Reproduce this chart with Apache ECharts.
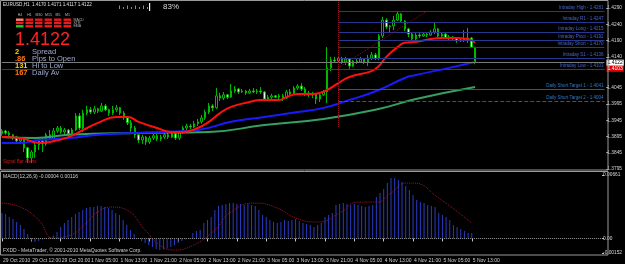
<!DOCTYPE html>
<html><head><meta charset="utf-8">
<script src="https://cdn.jsdelivr.net/npm/echarts@6/dist/echarts.min.js"></script>
<style>html,body{margin:0;padding:0;background:#000;}#c{width:625px;height:264px;}</style>
</head><body><div id="c"></div>
<script>
const tickLabels = ['29 Oct 2010','29 Oct 12:00','29 Oct 20:00','1 Nov 05:00','1 Nov 13:00','1 Nov 21:00','2 Nov 05:00','2 Nov 13:00','2 Nov 21:00','3 Nov 05:00','3 Nov 13:00','3 Nov 21:00','4 Nov 05:00','4 Nov 13:00','4 Nov 21:00','5 Nov 05:00','5 Nov 13:00'];
const priceTicks = [1.4290,1.4240,1.4190,1.4140,1.4045,1.3995,1.3945,1.3895,1.3845,1.3795];
const macdTicks = [0.00661, 0, -0.00152];
const macdTickLabels = ['0.00661','0.00','-0.00152'];

const opens = [1.3903,1.3912,1.3906,1.3900,1.3893,1.3881,1.3887,1.3860,1.3829,1.3847,
1.3869,1.3881,1.3872,1.3900,1.3887,1.3912,1.3921,1.3909,1.3915,1.3903,
1.3915,1.3958,1.3921,1.3967,1.3977,1.3970,1.3980,1.3973,1.3989,1.3977,
1.3967,1.3977,1.3983,1.3967,1.3952,1.3937,1.3921,1.3900,1.3884,1.3893,
1.3878,1.3890,1.3897,1.3887,1.3893,1.3900,1.3893,1.3903,1.3890,1.3906,
1.3921,1.3927,1.3924,1.3934,1.3940,1.3952,1.3970,1.3989,1.3983,1.4020,
1.4013,1.4023,1.4016,1.4035,1.4041,1.4032,1.4035,1.4029,1.4035,1.4032,
1.4035,1.4032,1.4010,1.4016,1.4020,1.4016,1.4020,1.4013,1.4032,1.4026,
1.4044,1.4050,1.4041,1.4029,1.4023,1.4026,1.4010,1.4023,1.4032,1.4106,
1.4130,1.4127,1.4136,1.4124,1.4133,1.4112,1.4127,1.4124,1.4133,1.4124,
1.4136,1.4146,1.4136,1.4204,1.4253,1.4232,1.4235,1.4253,1.4272,1.4250,
1.4226,1.4210,1.4195,1.4207,1.4204,1.4210,1.4207,1.4216,1.4226,1.4204,
1.4210,1.4198,1.4201,1.4198,1.4189,1.4192,1.4195,1.4198,1.4170];
const closes = [1.3912,1.3906,1.3900,1.3893,1.3881,1.3887,1.3860,1.3829,1.3847,1.3869,
1.3881,1.3872,1.3900,1.3887,1.3912,1.3921,1.3909,1.3915,1.3903,1.3915,
1.3958,1.3921,1.3967,1.3977,1.3970,1.3980,1.3973,1.3989,1.3977,1.3967,
1.3977,1.3983,1.3967,1.3952,1.3937,1.3921,1.3900,1.3884,1.3893,1.3878,
1.3890,1.3897,1.3887,1.3893,1.3900,1.3893,1.3903,1.3890,1.3906,1.3921,
1.3927,1.3924,1.3934,1.3940,1.3952,1.3970,1.3989,1.3983,1.4020,1.4013,
1.4023,1.4016,1.4035,1.4041,1.4032,1.4035,1.4029,1.4035,1.4032,1.4035,
1.4032,1.4010,1.4016,1.4020,1.4016,1.4020,1.4013,1.4032,1.4026,1.4044,
1.4050,1.4041,1.4029,1.4023,1.4026,1.4010,1.4023,1.4032,1.4106,1.4130,
1.4127,1.4136,1.4124,1.4133,1.4112,1.4127,1.4124,1.4133,1.4124,1.4136,
1.4146,1.4136,1.4204,1.4253,1.4232,1.4235,1.4253,1.4272,1.4250,1.4226,
1.4210,1.4195,1.4207,1.4204,1.4210,1.4207,1.4216,1.4226,1.4204,1.4210,
1.4198,1.4201,1.4198,1.4189,1.4192,1.4195,1.4198,1.4170,1.4122];
const highs = [1.3918,1.3915,1.3912,1.3903,1.3897,1.3893,1.3890,1.3863,1.3853,1.3875,
1.3887,1.3890,1.3906,1.3915,1.3921,1.3927,1.3927,1.3921,1.3918,1.3921,
1.3967,1.3967,1.3977,1.3989,1.3986,1.3989,1.3983,1.3998,1.3995,1.3980,
1.3989,1.3992,1.3986,1.3973,1.3958,1.3946,1.3927,1.3906,1.3900,1.3897,
1.3897,1.3903,1.3903,1.3900,1.3906,1.3906,1.3912,1.3909,1.3912,1.3927,
1.3934,1.3934,1.3943,1.3949,1.3961,1.3977,1.3998,1.3995,1.4044,1.4029,
1.4032,1.4026,1.4056,1.4050,1.4044,1.4041,1.4038,1.4041,1.4044,1.4041,
1.4047,1.4035,1.4023,1.4026,1.4023,1.4026,1.4026,1.4038,1.4041,1.4050,
1.4056,1.4059,1.4047,1.4035,1.4032,1.4029,1.4029,1.4038,1.4170,1.4140,
1.4140,1.4143,1.4140,1.4140,1.4136,1.4130,1.4136,1.4140,1.4136,1.4146,
1.4155,1.4152,1.4210,1.4263,1.4259,1.4238,1.4266,1.4281,1.4275,1.4253,
1.4229,1.4216,1.4213,1.4213,1.4216,1.4213,1.4222,1.4244,1.4229,1.4216,
1.4213,1.4207,1.4204,1.4201,1.4198,1.4222,1.4229,1.4201,1.4171];
const lows = [1.3897,1.3900,1.3893,1.3884,1.3875,1.3875,1.3847,1.3813,1.3813,1.3829,
1.3853,1.3847,1.3866,1.3884,1.3881,1.3906,1.3903,1.3897,1.3893,1.3897,
1.3912,1.3915,1.3909,1.3961,1.3964,1.3964,1.3967,1.3970,1.3973,1.3958,
1.3961,1.3970,1.3961,1.3946,1.3930,1.3909,1.3890,1.3875,1.3872,1.3869,
1.3872,1.3884,1.3881,1.3881,1.3887,1.3887,1.3890,1.3884,1.3884,1.3903,
1.3915,1.3918,1.3921,1.3927,1.3934,1.3946,1.3964,1.3973,1.3980,1.4004,
1.4007,1.4010,1.4013,1.4029,1.4026,1.4029,1.4023,1.4026,1.4029,1.4026,
1.4026,1.4004,1.4007,1.4010,1.4013,1.4010,1.4004,1.4010,1.4020,1.4023,
1.4038,1.4035,1.4020,1.4016,1.4013,1.3995,1.4001,1.4020,1.3998,1.4096,
1.4121,1.4124,1.4118,1.4115,1.4103,1.4109,1.4118,1.4121,1.4118,1.4112,
1.4130,1.4130,1.4130,1.4198,1.4226,1.4213,1.4222,1.4250,1.4244,1.4219,
1.4201,1.4189,1.4192,1.4198,1.4201,1.4201,1.4204,1.4210,1.4198,1.4201,
1.4195,1.4192,1.4192,1.4183,1.4186,1.4186,1.4183,1.4167,1.4117];

const maRed = [[0,1.3893],[5,1.3890],[10,1.3875],[13,1.3878],[18,1.3893],[22,1.3915],[26,1.3937],[31,1.3955],[34,1.3955],[37,1.3940],[42,1.3921],[46,1.3909],[49,1.3909],[53,1.3921],[56,1.3940],[59,1.3967],[62,1.3986],[67,1.4001],[70,1.4007],[75,1.4007],[77,1.4016],[80,1.4026],[84,1.4026],[86,1.4029],[88,1.4038],[91,1.4059],[94,1.4078],[100,1.4096],[102,1.4112],[104,1.4140],[107,1.4170],[109,1.4183],[112,1.4186],[116,1.4195],[119,1.4198],[122,1.4198],[126,1.4195],[128,1.4183]];
const maBlue = [[0,1.3875],[5,1.3875],[10,1.3884],[18,1.3890],[26,1.3900],[35,1.3906],[44,1.3909],[53,1.3915],[62,1.3940],[71,1.3955],[80,1.3970],[87,1.3983],[94,1.4007],[102,1.4038],[109,1.4075],[112,1.4084],[121,1.4106],[128,1.4124]];
const maGreen = [[0,1.3893],[9,1.3890],[18,1.3900],[37,1.3906],[56,1.3909],[71,1.3930],[87,1.3949],[101,1.3977],[112,1.4010],[128,1.4047]];

const macdHist = [0.00265,0.00254,0.00223,0.00202,0.00171,0.00140,0.00098,0.00046,-0.00022,-0.00038,
-0.00027,-0.00011,0.00004,0.00015,0.00030,0.00067,0.00119,0.00160,0.00192,0.00223,
0.00254,0.00275,0.00296,0.00317,0.00327,0.00327,0.00338,0.00338,0.00327,0.00317,
0.00296,0.00265,0.00244,0.00192,0.00140,0.00088,0.00046,0.00004,-0.00027,-0.00048,
-0.00069,-0.00090,-0.00110,-0.00121,-0.00116,-0.00105,-0.00090,-0.00069,-0.00048,-0.00027,
-0.00011,0.00004,0.00056,0.00077,0.00088,0.00160,0.00192,0.00223,0.00296,0.00338,
0.00348,0.00358,0.00369,0.00369,0.00358,0.00358,0.00348,0.00358,0.00348,0.00338,
0.00296,0.00244,0.00223,0.00192,0.00171,0.00160,0.00171,0.00192,0.00181,0.00192,
0.00202,0.00181,0.00160,0.00150,0.00140,0.00119,0.00140,0.00160,0.00223,0.00244,
0.00265,0.00348,0.00358,0.00369,0.00358,0.00348,0.00358,0.00348,0.00338,0.00327,
0.00338,0.00348,0.00431,0.00473,0.00515,0.00577,0.00629,0.00629,0.00609,0.00588,
0.00546,0.00504,0.00452,0.00400,0.00379,0.00369,0.00348,0.00338,0.00327,0.00265,
0.00244,0.00223,0.00192,0.00140,0.00119,0.00098,0.00077,0.00056,0.00056];
const macdSignal = [[0,0.00369],[5,0.00327],[10,0.00192],[14,0.00004],[18,0.00025],[23,0.00160],[26,0.00275],[30,0.00327],[34,0.00296],[39,0.00088],[43,-0.00069],[47,-0.00121],[51,-0.00090],[58,0.00088],[62,0.00265],[69,0.00369],[75,0.00317],[80,0.00213],[86,0.00171],[92,0.00265],[97,0.00379],[102,0.00379],[106,0.00473],[110,0.00577],[112,0.00577],[119,0.00421],[128,0.00160]];

const dayStart = 91;
const levelNames = ['Intraday High','Intraday R1','Intraday Long','Intraday Pivot','Intraday Short','Intraday S1'];
const levelValues = [1.4281,1.4247,1.4215,1.4192,1.4170,1.4136];
const targetNames = ['Daily Short Target 1','Daily Short Target 2'];
const targetValues = [1.4041,1.4004];
const lowName = 'Intraday Low', lowValue = 1.4103;
const bidValue = 1.4122;
const trendFrom = [91, 1.4106], trendTo = [115, 1.4281];
const sepBottom = 1.3921;

const SLOTS = 164;
const categories = Array.from({length: SLOTS}, (_, i) => String(i));
const yMin = 1.37918, yMax = 1.43087;
const last = SLOTS - 1;

const candles = opens.map((o, i) => [o, closes[i], lows[i], highs[i]]);
const F = 'Liberation Sans, Arial, sans-serif';

const levelLines = levelNames.map((n, k) => [
  {coord: [dayStart, levelValues[k]], label: {formatter: n + ' - ' + levelValues[k].toFixed(4)}},
  {coord: [last, levelValues[k]]}
]);
const targetLines = targetNames.map((n, k) => [
  {coord: [dayStart, targetValues[k]], lineStyle: {color: '#1d5f8f', type: k === 0 ? 'solid' : 'dashed'}, label: {formatter: n + ' - ' + targetValues[k].toFixed(4), color: '#2f7ccc'}},
  {coord: [last, targetValues[k]]}
]);

const tickOk = (i) => i % 8 === 0 && i / 8 < tickLabels.length;

const gfx = [];
gfx.push({type:'rect', shape:{x:0.5,y:0.5,width:607.5,height:169.5}, style:{fill:'none', stroke:'#9a9a9a', lineWidth:1}, silent:true, z:100});
gfx.push({type:'rect', shape:{x:0.5,y:171.5,width:607.5,height:83.5}, style:{fill:'none', stroke:'#9a9a9a', lineWidth:1}, silent:true, z:100});
gfx.push({type:'text', left:3, top:2, style:{text:'EURUSD,H1  1.4170 1.4171 1.4117 1.4122', fill:'#e0e0e0', font:'4.6px ' + F}, z:100});
const tfLabels = ['H4','H1','M30','M15','M5','M1'];
const tfX = [16, 25.5, 35, 44.5, 54, 63.5];
const rowColors = [
  ['#ff8474','#e81c1c','#e81c1c','#e81c1c','#e81c1c','#e81c1c'],
  ['#e81c1c','#e81c1c','#e81c1c','#e81c1c','#e81c1c','#e81c1c'],
  ['#22c822','#e81c1c','#e81c1c','#e81c1c','#e81c1c','#e81c1c']
];
tfLabels.forEach((t, k) => {
  gfx.push({type:'text', x: tfX[k] + 4, y: 15, style:{text:t, fill:'#b8b8b8', font:'3.5px ' + F, textAlign:'center', textVerticalAlign:'middle'}, z:100});
  rowColors.forEach((row, r) => {
    gfx.push({type:'rect', shape:{x: tfX[k], y: 18.5 + r*3.3, width: 7.5, height: 2.4}, style:{fill: row[k]}, z:100});
  });
});
['MACD','STR','EMA'].forEach((t, r) => {
  gfx.push({type:'text', x: 73.5, y: 19.7 + r*3.3, style:{text:t, fill:'#b0b0b0', font:'3.5px ' + F, textVerticalAlign:'middle'}, z:100});
});
gfx.push({type:'text', x:15, y:40, style:{text:'1.4122', fill:'#ff2424', font:'18px ' + F, textVerticalAlign:'middle'}, z:100});
const infoNums = ['2','.86','131','167'];
const infoColors = ['#ffd400','#ff7a10','#ffd400','#ff7a10'];
const infoText = ['Spread','Pips to Open','Hi to Low','Daily Av'];
infoNums.forEach((t, r) => {
  gfx.push({type:'text', x:15, y:52 + r*7, style:{text:t, fill:infoColors[r], font:'bold 7.5px ' + F, textVerticalAlign:'middle'}, z:100});
  gfx.push({type:'text', x:32, y:52 + r*7, style:{text:infoText[r], fill:'#9caacb', font:'7.5px ' + F, textVerticalAlign:'middle'}, z:100});
});
for (let k = 0; k < 8; k++) {
  gfx.push({type:'rect', shape:{x:119 + k*4, y: k % 2 ? 7 : 5.5, width:1, height: k % 2 ? 2 : 3.5}, style:{fill:'#8a8a8a'}, z:100});
}
gfx.push({type:'rect', shape:{x:149, y:3, width:1.2, height:8}, style:{fill:'#f0f0f0'}, z:100});
gfx.push({type:'text', x:163, y:6.5, style:{text:'83%', fill:'#d8d8d8', font:'8px ' + F, textVerticalAlign:'middle'}, z:100});
gfx.push({type:'text', x:3, y:162, style:{text:'Signal Bar Alerts', fill:'#d01818', font:'4.5px ' + F, textVerticalAlign:'middle'}, z:100});
gfx.push({type:'text', x:3, y:177, style:{text:'MACD(12,26,9) -0.00004 0.00116', fill:'#d0d0d0', font:'5px ' + F, textVerticalAlign:'middle'}, z:100});
gfx.push({type:'text', x:3, y:251, style:{text:'FXDD - MetaTrader, \u00a9 2001-2010 MetaQuotes Software Corp.', fill:'#d0d0d0', font:'5px ' + F, textVerticalAlign:'middle'}, z:100});

const option = {
  backgroundColor: '#000',
  animation: false,
  graphic: gfx,
  grid: [
    {left: 0, top: 2, width: 609.9, height: 168},
    {left: 0, top: 171, width: 609.9, height: 84}
  ],
  xAxis: [
    {type:'category', gridIndex:0, data:categories, boundaryGap:true, axisLine:{show:false}, axisTick:{show:false}, axisLabel:{show:false}, splitLine:{show:false}},
    {type:'category', gridIndex:1, data:categories, boundaryGap:true, axisLine:{show:false},
     axisTick:{show:true, interval:(i)=>tickOk(i), alignWithLabel:true, length:3, lineStyle:{color:'#c8c8c8'}},
     axisLabel:{show:true, interval:(i)=>tickOk(i), formatter:(v, i)=>tickLabels[i/8] || '', align:'left', fontSize:5, fontFamily:F, color:'#d0d0d0', margin:3, padding:[0,0,0,1]},
     splitLine:{show:false}}
  ],
  yAxis: [
    {type:'value', gridIndex:0, position:'right', min:yMin, max:yMax, splitLine:{show:false}, axisLine:{show:false},
     axisTick:{show:true, customValues:priceTicks, length:2, lineStyle:{color:'#c8c8c8'}},
     axisLabel:{show:true, customValues:priceTicks, formatter:(v)=>v.toFixed(4), fontSize:4.8, fontFamily:F, color:'#d8d8d8', margin:1}},
    {type:'value', gridIndex:1, position:'right', min:-0.001726, max:0.00703, splitLine:{show:false}, axisLine:{show:false},
     axisTick:{show:true, customValues:macdTicks, length:2, lineStyle:{color:'#c8c8c8'}},
     axisLabel:{show:true, customValues:macdTicks, formatter:(v)=>{let k=macdTicks.findIndex(t=>Math.abs(t-v)<1e-7);return k>=0?macdTickLabels[k]:'';}, fontSize:4.8, fontFamily:F, color:'#d8d8d8', margin:1}}
  ],
  series: [
    {type:'candlestick', xAxisIndex:0, yAxisIndex:0, data:candles, barWidth:2,
     itemStyle:{color:'#000000', color0:'#e4ffe4', borderColor:'#00b800', borderColor0:'#00b800', borderWidth:1},
     markLine:{silent:true, symbol:'none', animation:false, precision:4,
       lineStyle:{color:'#283890', width:1, type:'solid'},
       label:{show:true, position:'insideEndTop', color:'#4866cc', fontSize:4.5, fontFamily:F, distance:[1,1]},
       data:[
         ...levelLines,
         ...targetLines,
         [{coord:[0, lowValue], lineStyle:{color:'#d00000'}, label:{formatter: lowName + ' - ' + lowValue.toFixed(4)}}, {coord:[last, lowValue]}],
         [{coord:[0, lowValue], lineStyle:{color:'rgba(0,0,0,0)'}, label:{position:'end', formatter: lowValue.toFixed(4), color:'#ffffff', backgroundColor:'#e00000', padding:[1,1,0,1], fontSize:5, distance:2}}, {coord:[last, lowValue]}],
         [{coord:[0, bidValue], lineStyle:{color:'#7a7a7a'}, label:{position:'end', formatter: bidValue.toFixed(4), color:'#000000', backgroundColor:'#ffffff', padding:[1,1,0,1], fontSize:5, distance:2}}, {coord:[last, bidValue]}],
         [{coord:[dayStart, yMax], lineStyle:{color:'#901020', type:'dotted'}, label:{show:false}}, {coord:[dayStart, sepBottom]}],
         [{coord:trendFrom, lineStyle:{color:'#801020', type:'dotted'}, label:{show:false}}, {coord:trendTo}]
       ]}
    },
    {type:'line', xAxisIndex:0, yAxisIndex:0, data:maGreen, smooth:0.5, showSymbol:false, lineStyle:{color:'#36a060', width:2}, z:3},
    {type:'line', xAxisIndex:0, yAxisIndex:0, data:maBlue, smooth:0.5, showSymbol:false, lineStyle:{color:'#1a1aff', width:2}, z:3},
    {type:'line', xAxisIndex:0, yAxisIndex:0, data:maRed, smooth:0.5, showSymbol:false, lineStyle:{color:'#ff1010', width:2}, z:3},
    {type:'bar', xAxisIndex:1, yAxisIndex:1, data:macdHist, barWidth:1, itemStyle:{color:'#2a3cc4'},
     markLine:{silent:true, symbol:'none', label:{show:false}, lineStyle:{color:'#9a9a9a', type:'dotted', width:1}, data:[{yAxis:0}]}},
    {type:'line', xAxisIndex:1, yAxisIndex:1, data:macdSignal, smooth:0.5, showSymbol:false, lineStyle:{color:'#a81030', width:1, type:'dotted'}}
  ]
};
const chart = echarts.init(document.getElementById('c'), null, {renderer:'canvas', width:625, height:264});
chart.setOption(option);
</script>
</body></html>
